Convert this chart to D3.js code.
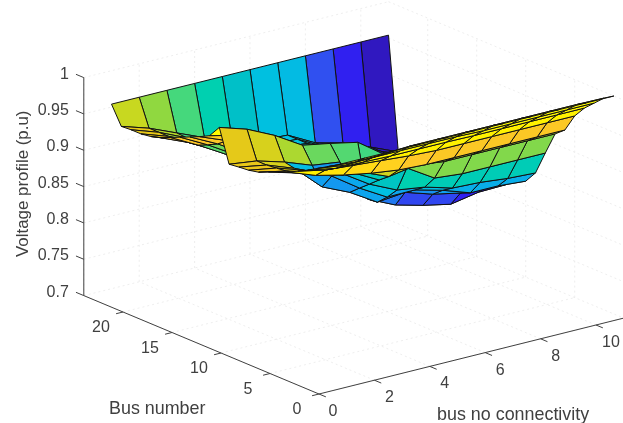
<!DOCTYPE html>
<html><head><meta charset="utf-8">
<script src="https://d3js.org/d3.v7.min.js"></script>
<style>html,body{margin:0;padding:0;background:#fff}svg{display:block;filter:blur(.4px)}text{font-family:"Liberation Sans",Arial,sans-serif;fill:#404040}</style>
</head><body><div id="c"></div>
<script>
const xIndex=[1,2,3,4,5,6,7,8,9,10,11];
const yIndex=[1,2,3,4,5,6,7,8,9,10,11,12,13,14,15,16,17,18,19,20,21,22,23,24];
const xTicks=[0,2,4,6,8,10];
const yTicks=[0,5,10,15,20];
const zTicks=[0.7,0.75,0.8,0.85,0.9,0.95,1];
const voltage=[
[1,1,1,1,1,1,1,1,1,1,1],
[.992,.989,.99,.992,.992,.992,.992,.992,.992,.992,.9915],
[.984,.979,.98,.98,.98,.98,.979,.979,.979,.979,.979],
[.976,.969,.968,.967,.967,.967,.9665,.9665,.9665,.9665,.9665],
[.969,.961,.958,.955,.952,.95,.95,.95,.95,.95,.95],
[.962,.948,.939,.932,.927,.925,.925,.925,.925,.925,.925],
[.956,.9455,.9347,.928,.9123,.9186,.914,.914,.914,.914,.914],
[.951,.941,.93,.922,.902,.909,.8856,.882,.882,.882,.882],
[.945,.937,.926,.915,.8906,.873,.8675,.8567,.855,.851,.849],
[.942,.9355,.923,.9055,.8795,.8576,.858,.848,.835,.835,.832],
[.9407,.934,.92,.885,.868,.845,.849,.837,.829,.83,.83],
[.939,.934,.923,.909,.904,.8436,.826,.816,.808,.815,.816],
[.984,.972,.954,.931,.924,.916,.889,.87,.855,.84,.83],
[.967,.958,.94,.92,.905,.895,.875,.86,.845,.832,.822],
[.96,.945,.925,.91,.895,.885,.87,.855,.84,.825,.815],
[.954,.935,.912,.9,.885,.875,.865,.85,.835,.82,.81],
[.948,.928,.905,.895,.88,.87,.862,.848,.832,.818,.805],
[.942,.922,.9,.89,.878,.868,.86,.845,.83,.816,.803],
[.936,.92,.9,.888,.875,.865,.86,.843,.83,.815,.802],
[.932,.918,.9,.887,.874,.864,.86,.842,.83,.815,.801],
[.93,.917,.9,.886,.873,.863,.86,.841,.83,.815,.8],
[.93,.917,.9,.886,.872,.862,.86,.84,.83,.815,.8],
[.929,.917,.901,.885,.872,.862,.86,.84,.83,.815,.799],
[.954,.954,.954,.954,.954,.954,.954,.954,.954,.954,.954]
];
// face colour levels where they differ from the vertex value
const shadedRows=[7,8,9,10,11,12,14,15,16,17,18,19,20,21,22];
const shadedLevels=[
[.956,.945,.935,.88,.885,.914,.914,.914,.914,.914],
[.951,.941,.93,.868,.875,.885,.882,.882,.882,.882],
[.945,.937,.926,.853,.862,.852,.86,.855,.855,.855],
[.942,.9355,.85,.849,.852,.848,.848,.85,.85,.85],
[.9407,.934,.86,.849,.848,.845,.838,.838,.83,.83],
[.939,.934,.923,.909,.904,.9,.85,.84,.83,.83],
[.955,.952,.94,.92,.905,.895,.875,.86,.845,.832],
[.952,.95,.925,.91,.895,.885,.87,.855,.84,.825],
[.952,.91,.912,.9,.885,.875,.865,.85,.835,.82],
[.952,.905,.905,.895,.88,.87,.862,.848,.832,.818],
[.952,.905,.9,.89,.878,.868,.86,.845,.83,.816],
[.945,.905,.9,.888,.875,.865,.86,.843,.83,.815],
[.94,.912,.9,.887,.874,.864,.86,.842,.83,.815],
[.94,.92,.9,.886,.873,.863,.86,.841,.83,.815],
[.94,.925,.9,.886,.872,.862,.86,.84,.83,.815]
];
const colorStops=[.8,.815,.83,.84,.85,.862,.872,.885,.9,.917,.929,.94,.952,.965,.99];
const colorValues=["#2c18b8","#3018c0","#3020f0","#3050f0","#10a0f0","#00c0e0","#00c0c8","#00d0b0","#40d880","#90d840","#c8d820","#e8c818","#ffc828","#fff000","#ffff00"];

const W=623,H=423,ox=319,oy=394;
const xMax=11,yMax=24;
const xs=d3.scaleLinear([0,xMax],[0,304.7]), xv=d3.scaleLinear([0,xMax],[0,-75.9]);
const ys=d3.scaleLinear([0,yMax],[0,-235.2]), yv=d3.scaleLinear([0,yMax],[0,-98.4]);
const zv=d3.scaleLinear([.7,1],[0,-218]);
const P=(x,y,z)=>[ox+xs(x)+ys(y),oy+xv(x)+yv(y)+zv(z)];
const color=d3.scaleLinear(colorStops,colorValues).clamp(true);
const svg=d3.select("#c").append("svg").attr("width",W).attr("height",H);
const line=d3.line();

const gridG=svg.append("g").attr("fill","none").attr("stroke","#e6e6e6").attr("stroke-width",.7).attr("stroke-dasharray","2 3");
const segs=[];
xTicks.forEach(t=>{segs.push([P(t,0,.7),P(t,yMax,.7)]);segs.push([P(t,yMax,.7),P(t,yMax,1)]);});
yTicks.forEach(t=>{segs.push([P(0,t,.7),P(xMax,t,.7)]);segs.push([P(xMax,t,.7),P(xMax,t,1)]);});
zTicks.forEach(t=>{segs.push([P(0,yMax,t),P(xMax,yMax,t)]);segs.push([P(xMax,yMax,t),P(xMax,0,t)]);});
gridG.selectAll("path").data(segs).join("path").attr("d",d=>line(d));

const axG=svg.append("g").attr("fill","none").attr("stroke","#404040").attr("stroke-width",1);
axG.append("path").attr("d",line([P(0,0,.7),P(xMax,0,.7)]));
axG.append("path").attr("d",line([P(0,0,.7),P(0,yMax,.7)]));
axG.append("path").attr("d",line([P(0,yMax,.7),P(0,yMax,1)]));
xTicks.forEach(t=>axG.append("path").attr("d",line([P(t,0,.7),P(t,-.7,.7)])));
yTicks.forEach(t=>axG.append("path").attr("d",line([P(0,t,.7),P(-.25,t,.7)])));
zTicks.forEach(t=>axG.append("path").attr("d",line([P(0,yMax,t),P(0,yMax+.8,t)])));

const tx=svg.append("g").attr("font-size",16);
xTicks.forEach(t=>{const p=P(t,0,.7);tx.append("text").attr("x",p[0]+(t==0?14:15)).attr("y",p[1]+22).attr("text-anchor","middle").text(t);});
yTicks.forEach(t=>{const p=P(0,t,.7);tx.append("text").attr("x",p[0]-22).attr("y",p[1]+20).attr("text-anchor","middle").text(t);});
zTicks.forEach(t=>{const p=P(0,yMax,t);tx.append("text").attr("x",p[0]-15).attr("y",p[1]+1).attr("text-anchor","end").text(t);});
svg.append("text").attr("x",109).attr("y",414).attr("font-size",17.9).text("Bus number");
svg.append("text").attr("x",437).attr("y",420).attr("font-size",17.9).text("bus no connectivity");
svg.append("text").attr("transform","translate(28,257) rotate(-90)").attr("font-size",16.9).text("Voltage profile (p.u)");

const faces=[];
for(let j=yIndex.length-2;j>=0;j--){for(let i=xIndex.length-2;i>=0;i--){faces.push({i,j});}}
const V=(i,j)=>P(xIndex[i],yIndex[j],voltage[j][i]);
const level=d=>{const r=shadedRows.indexOf(yIndex[d.j]);return r>=0?shadedLevels[r][d.i]:voltage[d.j][d.i];};
svg.append("g").selectAll("path").data(faces).join("path")
 .attr("d",d=>line([V(d.i,d.j),V(d.i+1,d.j),V(d.i+1,d.j+1),V(d.i,d.j+1)])+"Z")
 .attr("fill",d=>color(level(d)))
 .attr("stroke","#111").attr("stroke-width",1).attr("stroke-linejoin","round");
</script></body></html>
